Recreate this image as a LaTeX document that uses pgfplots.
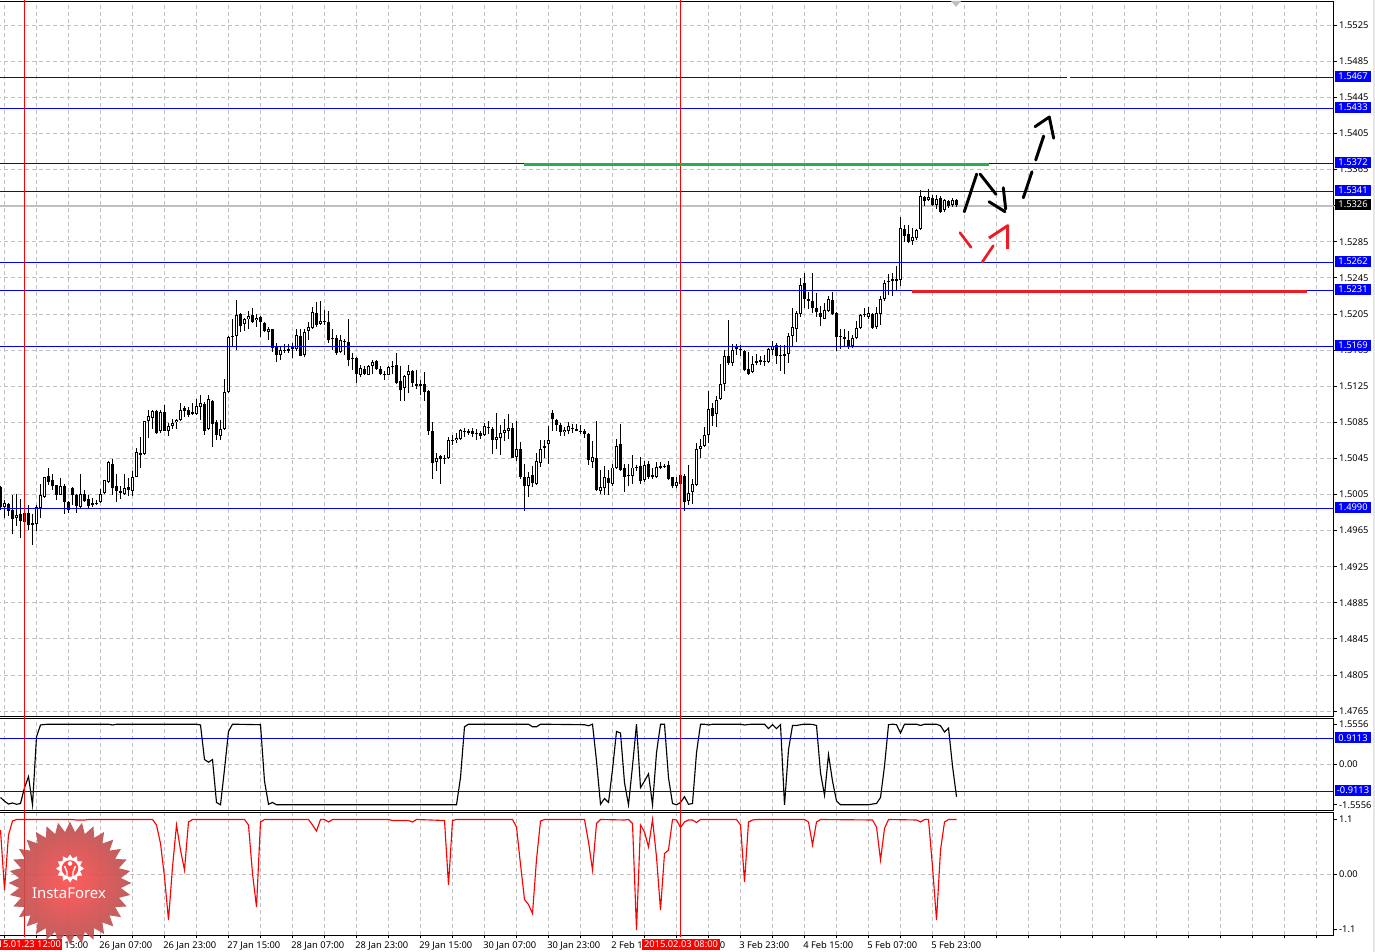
\documentclass[border=0pt]{standalone}
\usepackage{fontspec}
\setmainfont{Noto Sans}
\usepackage{pgfplots}
\usepackage{pgfplotstable}
\pgfplotsset{compat=1.18}
\usetikzlibrary{shapes.geometric}
\definecolor{gridc}{HTML}{C0C0C0}
\definecolor{handred}{HTML}{ED1C24}
\definecolor{handgreen}{HTML}{22B14C}
\definecolor{lvl}{HTML}{0000FF}
\definecolor{badgein}{HTML}{FF4A4A}
\definecolor{badgeout}{HTML}{B94C4C}

\pgfplotstableread{
i o h l c
0 1.5013 1.5014 1.4988 1.4991
1 1.4991 1.4999 1.4979 1.4996
2 1.4995 1.4996 1.4981 1.4987
3 1.4988 1.5005 1.4961 1.4978
4 1.4979 1.5006 1.4970 1.4982
5 1.4983 1.5000 1.4957 1.4976
6 1.4985 1.4991 1.4969 1.4975
7 1.4985 1.4994 1.4966 1.4971
8 1.4973 1.4984 1.4949 1.4971
9 1.4972 1.4993 1.4965 1.4991
10 1.4990 1.5017 1.4979 1.5004
11 1.5002 1.5025 1.5001 1.5025
12 1.5026 1.5035 1.5016 1.5019
13 1.5021 1.5028 1.5010 1.5015
14 1.5016 1.5016 1.4999 1.5005
15 1.5005 1.5023 1.5004 1.5015
16 1.5014 1.5017 1.4984 1.4997
17 1.4997 1.4998 1.4985 1.4988
18 1.5012 1.5013 1.4994 1.5004
19 1.5005 1.5006 1.4985 1.4992
20 1.4991 1.5028 1.4990 1.5006
21 1.5006 1.5010 1.4997 1.4998
22 1.5000 1.5004 1.4990 1.4992
23 1.4996 1.5001 1.4991 1.4994
24 1.4996 1.4999 1.4993 1.4995
25 1.4997 1.5011 1.4996 1.5006
26 1.5007 1.5021 1.5006 1.5021
27 1.5019 1.5042 1.5018 1.5041
28 1.5039 1.5044 1.5005 1.5012
29 1.5014 1.5028 1.4997 1.5009
30 1.5009 1.5014 1.5000 1.5007
31 1.5006 1.5028 1.5004 1.5012
32 1.5013 1.5023 1.5003 1.5010
33 1.5009 1.5031 1.5003 1.5024
34 1.5025 1.5057 1.5024 1.5052
35 1.5051 1.5069 1.5035 1.5049
36 1.5050 1.5087 1.5049 1.5087
37 1.5086 1.5099 1.5068 1.5092
38 1.5090 1.5099 1.5078 1.5098
39 1.5098 1.5099 1.5072 1.5073
40 1.5075 1.5099 1.5073 1.5097
41 1.5096 1.5104 1.5075 1.5076
42 1.5075 1.5084 1.5070 1.5081
43 1.5081 1.5089 1.5078 1.5084
44 1.5085 1.5089 1.5078 1.5088
45 1.5088 1.5106 1.5087 1.5099
46 1.5101 1.5103 1.5091 1.5098
47 1.5099 1.5102 1.5091 1.5093
48 1.5096 1.5107 1.5093 1.5094
49 1.5094 1.5111 1.5093 1.5103
50 1.5102 1.5115 1.5088 1.5106
51 1.5105 1.5108 1.5071 1.5076
52 1.5078 1.5115 1.5077 1.5111
53 1.5109 1.5110 1.5058 1.5083
54 1.5085 1.5088 1.5066 1.5071
55 1.5070 1.5088 1.5065 1.5078
56 1.5078 1.5133 1.5077 1.5119
57 1.5119 1.5181 1.5118 1.5180
58 1.5180 1.5199 1.5169 1.5181
59 1.5181 1.5221 1.5165 1.5204
60 1.5205 1.5206 1.5185 1.5192
61 1.5194 1.5201 1.5186 1.5199
62 1.5199 1.5208 1.5188 1.5203
63 1.5204 1.5212 1.5195 1.5196
64 1.5198 1.5205 1.5191 1.5201
65 1.5202 1.5203 1.5180 1.5196
66 1.5195 1.5196 1.5185 1.5186
67 1.5185 1.5191 1.5176 1.5188
68 1.5188 1.5189 1.5163 1.5167
69 1.5170 1.5173 1.5152 1.5160
70 1.5160 1.5169 1.5154 1.5165
71 1.5165 1.5172 1.5162 1.5164
72 1.5166 1.5172 1.5162 1.5164
73 1.5168 1.5173 1.5156 1.5166
74 1.5166 1.5188 1.5164 1.5182
75 1.5181 1.5188 1.5158 1.5159
76 1.5160 1.5189 1.5157 1.5185
77 1.5186 1.5196 1.5176 1.5191
78 1.5190 1.5213 1.5189 1.5207
79 1.5206 1.5218 1.5191 1.5193
80 1.5194 1.5219 1.5193 1.5197
81 1.5197 1.5209 1.5193 1.5196
82 1.5196 1.5208 1.5173 1.5176
83 1.5178 1.5189 1.5165 1.5177
84 1.5179 1.5182 1.5160 1.5162
85 1.5163 1.5182 1.5162 1.5176
86 1.5175 1.5177 1.5160 1.5174
87 1.5174 1.5199 1.5147 1.5154
88 1.5156 1.5162 1.5143 1.5155
89 1.5156 1.5157 1.5129 1.5139
90 1.5138 1.5149 1.5135 1.5145
91 1.5144 1.5147 1.5138 1.5139
92 1.5138 1.5149 1.5137 1.5147
93 1.5148 1.5154 1.5139 1.5152
94 1.5153 1.5154 1.5143 1.5144
95 1.5144 1.5147 1.5137 1.5139
96 1.5139 1.5142 1.5132 1.5137
97 1.5138 1.5148 1.5137 1.5146
98 1.5148 1.5153 1.5139 1.5147
99 1.5149 1.5162 1.5128 1.5129
100 1.5131 1.5148 1.5109 1.5121
101 1.5123 1.5138 1.5109 1.5136
102 1.5137 1.5149 1.5117 1.5142
103 1.5142 1.5143 1.5124 1.5129
104 1.5128 1.5143 1.5122 1.5125
105 1.5127 1.5132 1.5115 1.5125
106 1.5127 1.5141 1.5109 1.5119
107 1.5120 1.5121 1.5071 1.5075
108 1.5076 1.5085 1.5022 1.5040
109 1.5041 1.5051 1.5031 1.5046
110 1.5048 1.5049 1.5017 1.5044
111 1.5046 1.5049 1.5039 1.5045
112 1.5045 1.5069 1.5044 1.5065
113 1.5064 1.5071 1.5060 1.5066
114 1.5065 1.5073 1.5062 1.5068
115 1.5067 1.5078 1.5066 1.5077
116 1.5075 1.5079 1.5069 1.5076
117 1.5076 1.5078 1.5071 1.5073
118 1.5075 1.5079 1.5069 1.5072
119 1.5073 1.5078 1.5065 1.5072
120 1.5073 1.5075 1.5067 1.5070
121 1.5071 1.5084 1.5070 1.5081
122 1.5080 1.5087 1.5072 1.5079
123 1.5078 1.5080 1.5050 1.5065
124 1.5066 1.5095 1.5055 1.5069
125 1.5068 1.5082 1.5049 1.5073
126 1.5073 1.5089 1.5064 1.5077
127 1.5076 1.5094 1.5067 1.5079
128 1.5079 1.5084 1.5045 1.5046
129 1.5047 1.5086 1.5042 1.5055
130 1.5056 1.5063 1.5022 1.5025
131 1.5024 1.5039 1.4987 1.5014
132 1.5015 1.5030 1.5002 1.5025
133 1.5027 1.5037 1.5013 1.5018
134 1.5017 1.5051 1.5016 1.5042
135 1.5040 1.5065 1.5036 1.5056
136 1.5057 1.5066 1.5045 1.5059
137 1.5061 1.5081 1.5039 1.5065
138 1.5095 1.5099 1.5076 1.5089
139 1.5088 1.5089 1.5075 1.5082
140 1.5082 1.5084 1.5070 1.5074
141 1.5074 1.5080 1.5070 1.5077
142 1.5076 1.5085 1.5072 1.5081
143 1.5079 1.5083 1.5073 1.5078
144 1.5078 1.5083 1.5075 1.5076
145 1.5076 1.5082 1.5072 1.5075
146 1.5075 1.5078 1.5068 1.5072
147 1.5072 1.5073 1.5038 1.5043
148 1.5041 1.5064 1.5034 1.5047
149 1.5045 1.5086 1.5009 1.5010
150 1.5009 1.5032 1.5006 1.5013
151 1.5012 1.5037 1.5005 1.5024
152 1.5023 1.5032 1.5004 1.5018
153 1.5017 1.5039 1.5014 1.5035
154 1.5034 1.5067 1.5033 1.5059
155 1.5061 1.5083 1.5031 1.5032
156 1.5034 1.5039 1.5008 1.5025
157 1.5027 1.5039 1.5014 1.5026
158 1.5026 1.5049 1.5017 1.5035
159 1.5036 1.5038 1.5031 1.5035
160 1.5037 1.5047 1.5017 1.5020
161 1.5021 1.5042 1.5019 1.5038
162 1.5039 1.5042 1.5022 1.5025
163 1.5027 1.5034 1.5022 1.5025
164 1.5024 1.5041 1.5023 1.5036
165 1.5035 1.5041 1.5033 1.5037
166 1.5037 1.5039 1.5034 1.5036
167 1.5038 1.5042 1.5021 1.5022
168 1.5024 1.5025 1.5012 1.5015
169 1.5015 1.5025 1.5012 1.5019
170 1.5027 1.5028 1.5016 1.5017
171 1.5026 1.5028 1.4987 1.4997
172 1.4998 1.5038 1.4994 1.5007
173 1.5008 1.5022 1.4995 1.5017
174 1.5016 1.5062 1.5015 1.5055
175 1.5056 1.5067 1.5046 1.5059
176 1.5059 1.5080 1.5058 1.5071
177 1.5071 1.5120 1.5062 1.5100
178 1.5101 1.5106 1.5081 1.5092
179 1.5094 1.5114 1.5080 1.5110
180 1.5111 1.5150 1.5110 1.5128
181 1.5127 1.5165 1.5120 1.5158
182 1.5159 1.5198 1.5149 1.5151
183 1.5151 1.5172 1.5148 1.5165
184 1.5168 1.5172 1.5160 1.5166
185 1.5166 1.5171 1.5159 1.5165
186 1.5164 1.5165 1.5142 1.5143
187 1.5144 1.5163 1.5138 1.5139
188 1.5141 1.5158 1.5140 1.5150
189 1.5153 1.5161 1.5149 1.5151
190 1.5154 1.5158 1.5149 1.5152
191 1.5153 1.5160 1.5148 1.5152
192 1.5152 1.5167 1.5151 1.5166
193 1.5165 1.5175 1.5160 1.5170
194 1.5171 1.5173 1.5150 1.5159
195 1.5160 1.5171 1.5142 1.5158
196 1.5161 1.5171 1.5139 1.5159
197 1.5161 1.5184 1.5151 1.5181
198 1.5181 1.5212 1.5169 1.5191
199 1.5189 1.5208 1.5174 1.5206
200 1.5205 1.5245 1.5202 1.5237
201 1.5239 1.5251 1.5212 1.5222
202 1.5222 1.5229 1.5211 1.5220
203 1.5220 1.5251 1.5206 1.5212
204 1.5212 1.5228 1.5202 1.5207
205 1.5206 1.5214 1.5192 1.5202
206 1.5200 1.5217 1.5199 1.5209
207 1.5208 1.5225 1.5207 1.5222
208 1.5221 1.5230 1.5204 1.5205
209 1.5206 1.5207 1.5164 1.5180
210 1.5181 1.5188 1.5166 1.5180
211 1.5180 1.5189 1.5169 1.5177
212 1.5176 1.5186 1.5166 1.5170
213 1.5170 1.5182 1.5167 1.5178
214 1.5179 1.5197 1.5177 1.5190
215 1.5190 1.5205 1.5189 1.5204
216 1.5205 1.5212 1.5202 1.5204
217 1.5202 1.5213 1.5199 1.5206
218 1.5205 1.5206 1.5189 1.5190
219 1.5191 1.5213 1.5189 1.5206
220 1.5205 1.5225 1.5193 1.5222
221 1.5222 1.5243 1.5220 1.5239
222 1.5240 1.5249 1.5226 1.5242
223 1.5244 1.5250 1.5225 1.5242
224 1.5244 1.5258 1.5231 1.5242
225 1.5243 1.5313 1.5236 1.5300
226 1.5299 1.5304 1.5285 1.5292
227 1.5294 1.5304 1.5284 1.5285
228 1.5286 1.5300 1.5282 1.5290
229 1.5289 1.5299 1.5287 1.5298
230 1.5299 1.5343 1.5298 1.5336
231 1.5335 1.5336 1.5325 1.5330
232 1.5331 1.5344 1.5330 1.5335
233 1.5334 1.5337 1.5325 1.5326
234 1.5326 1.5337 1.5321 1.5333
235 1.5334 1.5336 1.5317 1.5318
236 1.5320 1.5333 1.5318 1.5331
237 1.5330 1.5331 1.5322 1.5325
238 1.5326 1.5334 1.5324 1.5331
239 1.5331 1.5332 1.5324 1.5326
}\candles

\pgfplotstableread{
i v
0 -1.27
1 -1.41
2 -1.52
3 -1.48
4 -1.53
5 -1.50
6 -0.89
7 -0.47
8 -1.55
9 1.06
10 1.52
11 1.54
12 1.55
27 1.55
28 1.52
29 1.55
49 1.55
50 1.52
51 0.19
52 0.09
53 0.19
54 -1.46
55 -1.55
56 -0.19
57 1.27
58 1.55
65 1.53
66 -0.64
67 -1.53
68 -1.46
69 -1.55
114 -1.55
115 -0.50
116 1.45
117 1.55
132 1.55
133 1.45
134 1.45
135 1.55
146 1.53
147 1.49
148 1.55
149 0.13
150 -1.53
151 -1.31
152 -1.46
153 -0.19
154 1.27
155 1.21
156 -0.70
157 -1.55
158 -0.06
159 1.55
160 -0.89
161 -0.64
162 -0.36
163 -1.55
164 0.45
165 1.55
166 1.55
167 -0.51
168 -1.50
169 -1.55
170 -1.46
171 -1.24
172 -1.53
173 -1.50
174 0.45
175 1.55
176 1.55
177 1.52
178 1.55
185 1.55
186 1.52
187 1.54
188 1.55
191 1.55
192 1.38
193 1.53
194 1.38
195 1.53
196 -1.55
197 0.57
198 1.50
199 1.50
200 1.53
201 1.55
202 1.55
203 1.54
204 1.50
205 -0.32
206 -1.18
207 0.38
208 -0.64
209 -1.40
210 -1.55
217 -1.55
218 -1.52
219 -1.50
220 -1.27
221 -0.06
222 1.53
223 1.55
224 1.53
225 1.21
226 1.55
229 1.55
230 1.50
231 1.55
234 1.55
235 1.49
236 1.25
237 1.40
238 -0.06
239 -1.24
}\blackind

\pgfplotstableread{
i v
0 0.89
1 -0.31
2 0.79
3 1.07
4 1.10
18 1.10
19 1.09
21 1.09
22 1.10
38 1.10
39 0.99
40 0.62
41 -0.05
42 -0.91
43 0.15
44 0.99
45 0.49
46 0.09
47 1.05
48 1.10
61 1.10
62 0.99
63 0.02
64 -0.65
65 1.05
66 1.10
77 1.10
78 0.99
79 0.87
80 1.10
81 1.10
82 1.05
83 1.10
97 1.10
98 1.08
102 1.08
103 1.05
104 1.10
111 1.08
112 -0.21
113 1.08
114 1.10
128 1.10
129 0.95
130 0.20
131 -0.50
132 -0.60
133 -0.78
134 0.30
135 1.07
136 1.10
146 1.10
147 0.65
148 0.09
149 1.02
150 1.10
156 1.09
157 1.10
158 1.02
159 -1.11
160 0.99
161 0.85
162 0.55
163 1.10
164 0.35
165 -0.71
166 0.42
167 0.49
168 1.10
169 1.09
170 0.94
171 1.05
172 1.09
173 1.09
174 1.04
175 1.10
184 1.10
185 0.99
186 -0.15
187 1.05
188 1.09
189 1.10
201 1.10
202 1.05
203 0.59
204 1.05
205 1.10
218 1.09
219 0.95
220 0.29
221 0.92
222 1.10
229 1.09
230 1.05
231 1.10
232 1.10
233 0.15
234 -0.91
235 0.49
236 1.05
237 1.10
239 1.10
}\redind

\pgfplotsset{
  chart/.style={
    scale only axis, width=1002.125pt,
    xmin=-0.79175, xmax=333.25,
    xtick={1,9,...,329},
    axis line style={black,line width=.75pt},
    grid=major,
    grid style={gridc,line width=.75pt,dash pattern=on 3pt off 2.25pt},
    tick style={black,line width=.75pt},
    major tick length=2.25pt,
    tick align=outside,
    ytick pos=right,
    yticklabel pos=right,
    tick label style={font=\fontsize{7}{8}\selectfont},
    yticklabel style={anchor=west,xshift=-1.5pt},
    /pgf/number format/assume math mode=true,
    clip=true,
    every axis plot/.append style={forget plot},
  },
  candle/.style={draw=none, mark=none, error bars/.cd, y dir=plus, y explicit,
    error mark=|, error mark options={draw=none,mark size=0pt},
    error bar style={draw=#1}},
}
\tikzset{tagb/.style={fill=lvl,text=white,font=\fontsize{7}{8}\selectfont,minimum width=27pt,minimum height=8pt,inner sep=0pt,anchor=center},
         tagk/.style={tagb,fill=black},
         lev/.style={lvl,line width=.8pt}}

\begin{document}
\begin{tikzpicture}[x=1pt,y=1pt]
\useasboundingbox (0,0) rectangle (1031.25pt,714pt);

% --- price panel
\begin{axis}[chart, at={(-2pt,176.625pt)}, anchor=south west, height=536.25pt,
  ymin=1.475912, ymax=1.555137,
  ytick={1.4765,1.4805,1.4845,1.4885,1.4925,1.4965,1.5005,1.5045,1.5085,1.5125,1.5165,1.5205,1.5245,1.5285,1.5325,1.5365,1.5405,1.5445,1.5485,1.5525},
  yticklabels={1.4765,1.4805,1.4845,1.4885,1.4925,1.4965,1.5005,1.5045,1.5085,1.5125,1.5165,1.5205,1.5245,1.5285,1.5325,1.5365,1.5405,1.5445,1.5485,1.5525},
  xticklabels={}, x tick style={draw=none},
]
\addplot[gridc,line width=.85pt] coordinates {(-1,1.53248)(334,1.53248)};
\addplot[candle=black, error bar style={line width=.8pt}]
  table[x=i, y=l, y error plus expr={\thisrow{h}-\thisrow{l}}] {\candles};
\addplot[candle=black, error bar style={line width=2.25pt}]
  table[x=i, y expr={min(\thisrow{o},\thisrow{c})}, y error plus expr={abs(\thisrow{c}-\thisrow{o})}] {\candles};
\addplot[candle=white, error bar style={line width=.75pt}]
  table[x=i, y expr={\thisrow{o}+0.00011}, y error plus expr={max(0,\thisrow{c}-\thisrow{o}-0.00022)}] {\candles};
\addplot[lev] coordinates {(-1,1.5467)(334,1.5467)};
\addplot[lev] coordinates {(-1,1.5433)(334,1.5433)};
\addplot[lev] coordinates {(-1,1.5372)(334,1.5372)};
\addplot[lev] coordinates {(-1,1.5341)(334,1.5341)};
\addplot[lev] coordinates {(-1,1.5262)(334,1.5262)};
\addplot[lev] coordinates {(-1,1.5231)(334,1.5231)};
\addplot[lev] coordinates {(-1,1.5169)(334,1.5169)};
\addplot[lev] coordinates {(-1,1.4990)(334,1.4990)};
\end{axis}

% --- oscillator panel (black)
\begin{axis}[chart, at={(-2pt,106.125pt)}, anchor=south west, height=69pt,
  ymin=-1.7692, ymax=1.7692,
  ytick={-1.5556,0,1.5556}, yticklabels={-1.5556,0.00,1.5556},
  ymajorgrids=false, extra y ticks={0}, extra y tick labels={},
  extra y tick style={ymajorgrids=true, major tick length=0pt},
  xticklabels={}, x tick style={draw=none},
]
\addplot[black,line width=.85pt] table[x=i,y=v] {\blackind};
\addplot[lev] coordinates {(-1,1.0)(334,1.0)};
\addplot[lev] coordinates {(-1,-1.0385)(334,-1.0385)};
\end{axis}

% --- oscillator panel (red)
\begin{axis}[chart, at={(-2pt,12.375pt)}, anchor=south west, height=92.25pt,
  ymin=-1.22, ymax=1.24,
  ytick={-1.1,0,1.1}, yticklabels={-1.1,0.00,1.1},
  ymajorgrids=false, extra y ticks={0}, extra y tick labels={},
  extra y tick style={ymajorgrids=true, major tick length=0pt},
  xtick pos=bottom,
  xticklabels={{},{23 Jan 15:00},{},{26 Jan 07:00},{},{26 Jan 23:00},{},{27 Jan 15:00},{},{28 Jan 07:00},{},{28 Jan 23:00},{},{29 Jan 15:00},{},{30 Jan 07:00},{},{30 Jan 23:00},{},{2 Feb 15:00},{},{3 Feb 07:00},{},{3 Feb 23:00},{},{4 Feb 15:00},{},{5 Feb 07:00},{},{5 Feb 23:00}},
  xticklabel style={anchor=north west,xshift=-4.4pt,yshift=1pt},
]
\addplot[red,line width=.85pt] table[x=i,y=v] {\redind};
\end{axis}

% --- overlay in picture pixels: drawn objects and value tags
\begin{axis}[at={(0pt,0pt)}, anchor=south west, scale only axis, width=1031.25pt, height=714pt,
  xmin=0, xmax=1375, ymin=0, ymax=952, y dir=reverse, hide axis, clip=false,
  every axis plot/.append style={forget plot}]
% vertical markers
\addplot[red,line width=.8pt] coordinates {(24.5,0)(24.5,937)};
\addplot[red,line width=.8pt] coordinates {(680.5,0)(680.5,937)};
% shift marker and small gap
\addplot[fill=gridc,draw=none] coordinates {(951,1)(961,1)(956,7)} --cycle;
\addplot[white,line width=1pt] coordinates {(1067,77.6)(1070,77.6)};
% horizontal hand strokes
\addplot[handgreen,line width=2.2pt] coordinates {(524,164.2)(989,164.2)};
\addplot[handred,line width=2.5pt] coordinates {(912,291.3)(1307,291.3)};
% black hand strokes
\addplot[black,line width=2.2pt,line cap=round] coordinates {(964.3,211.7)(976.7,174)};
\addplot[black,line width=2.2pt,line cap=round] coordinates {(980,174)(996,194.3)};
\addplot[black,line width=2.2pt,line cap=round] coordinates {(1003.3,187.7)(1005.7,209)};
\addplot[black,line width=2.2pt,line cap=round] coordinates {(989,201.7)(1005,211.7)};
\addplot[black,line width=2.2pt,line cap=round] coordinates {(1023.3,197.7)(1032,171.7)};
\addplot[black,line width=2.2pt,line cap=round] coordinates {(1035.7,160)(1043.7,136)};
\addplot[black,line width=2.2pt,line cap=round,line join=round] coordinates {(1035,126.7)(1049.3,117)(1053.7,138.3)};
% red hand strokes
\addplot[handred,line width=2pt,line cap=round] coordinates {(960,232.7)(971,247.3)};
\addplot[handred,line width=2pt,line cap=round] coordinates {(982.3,262)(993.3,245.7)};
\addplot[handred,line width=2.2pt,line join=round] coordinates {(989,238)(1007.7,225.7)(1007.7,249)};

% watermark
\node[star, star points=32, star point ratio=1.2, inner sep=0pt, minimum size=92pt,
      inner color=badgein, outer color=badgeout, draw=none, opacity=.9]
      at (axis cs:70,883) {};
\node[star, star points=12, star point ratio=1.35, fill=white, inner sep=0pt, minimum size=21pt] at (axis cs:70,868.5) {};
\fill[badgein] (axis cs:70,868.5) circle[radius=6.2pt];
\fill[white] (axis cs:70,863.5) circle[radius=1.7pt];
\draw[white,line width=1.1pt] (axis cs:64.5,866) -- (axis cs:67,872) -- (axis cs:67,878);
\draw[white,line width=1.1pt] (axis cs:75.5,866) -- (axis cs:73,872) -- (axis cs:73,878);
\node[text=white,font=\fontsize{11.2}{13}\selectfont] at (axis cs:69,893.5) {InstaForex};

% level tags
\node[tagb] at (axis cs:1353,76.4) {1.5467};
\node[tagb] at (axis cs:1353,107.6) {1.5433};
\node[tagb] at (axis cs:1353,162.5) {1.5372};
\node[tagb] at (axis cs:1353,190.5) {1.5341};
\node[tagk] at (axis cs:1353,204.5) {1.5326};
\node[tagb] at (axis cs:1353,261.4) {1.5262};
\node[tagb] at (axis cs:1353,289.5) {1.5231};
\node[tagb] at (axis cs:1353,345.5) {1.5169};
\node[tagb] at (axis cs:1353,507.5) {1.4990};
\node[tagb] at (axis cs:1353,737.8) {0.9113};
\node[tagb] at (axis cs:1353,790.6) {-0.9113};

% time tags
\fill[red] (axis cs:0,939) rectangle (axis cs:62,950);
\node[text=white,font=\fontsize{7}{8}\selectfont,anchor=east,inner sep=0.5pt] at (axis cs:62,944.6) {15.01.23 12:00};
\fill[red] (axis cs:642,939) rectangle (axis cs:720,950);
\node[text=white,font=\fontsize{7}{8}\selectfont,inner sep=0pt] at (axis cs:681,944.6) {2015.02.03 08:00};

% window edge
\addplot[black!10,line width=1.2pt] coordinates {(1374.2,0)(1374.2,952)};
\end{axis}
\end{tikzpicture}
\end{document}
